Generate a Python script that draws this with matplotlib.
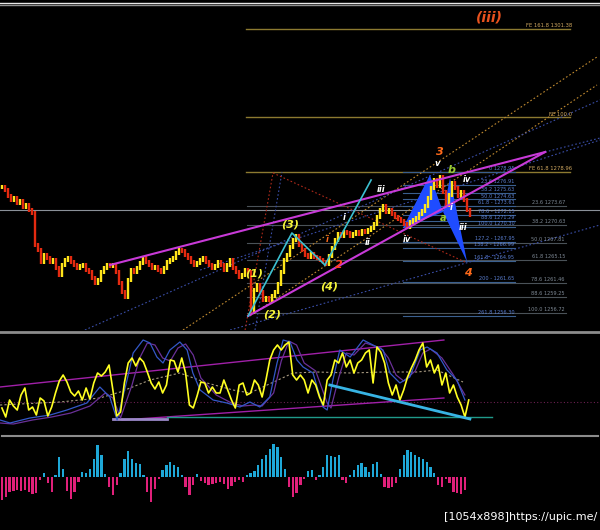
import matplotlib
matplotlib.use("agg")
import matplotlib.pyplot as plt
from matplotlib.lines import Line2D

#### price bars: close of every bar, open = previous close ####
closes = [1276.59, 1276.12, 1275.18, 1274.55, 1274.86, 1274.08, 1274.39, 1273.45, 1273.76, 1272.98,
          1272.50, 1267.47, 1266.69, 1264.80, 1265.90, 1265.43, 1264.80, 1265.11, 1263.86, 1262.76,
          1264.33, 1265.11, 1265.43, 1264.80, 1264.33, 1263.86, 1264.17, 1264.33, 1263.54, 1263.23,
          1262.29, 1261.50, 1261.97, 1263.23, 1263.86, 1264.33, 1264.17, 1264.33, 1263.23, 1261.50,
          1260.09, 1259.30, 1261.97, 1263.54, 1263.23, 1263.86, 1264.64, 1265.43, 1264.80, 1264.33,
          1263.86, 1264.02, 1263.54, 1263.23, 1263.86, 1264.80, 1265.11, 1265.43, 1266.22, 1266.69,
          1266.53, 1265.90, 1265.43, 1264.80, 1264.33, 1264.64, 1265.11, 1265.43, 1264.80, 1264.33,
          1263.86, 1264.17, 1264.80, 1264.33, 1263.54, 1264.33, 1265.11, 1263.86, 1263.23, 1262.44,
          1262.76, 1263.54, 1263.23, 1256.94, 1260.40, 1261.18, 1260.09, 1258.83, 1259.15, 1258.83,
          1259.46, 1260.09, 1261.34, 1263.23, 1265.11, 1265.90, 1267.16, 1268.26, 1268.89, 1267.47,
          1266.69, 1265.90, 1265.59, 1266.06, 1265.59, 1265.43, 1265.11, 1264.80, 1264.49, 1265.74,
          1267.00, 1268.26, 1269.20, 1268.89, 1269.52, 1269.36, 1268.89, 1269.20, 1269.52, 1269.20,
          1269.67, 1269.52, 1269.83, 1270.15, 1270.77, 1271.88, 1272.98, 1273.61, 1272.66, 1272.98,
          1272.35, 1271.88, 1271.56, 1271.25, 1270.77, 1270.30, 1271.09, 1271.40, 1271.72, 1272.35,
          1272.82, 1273.61, 1274.86, 1276.43, 1277.69, 1276.75, 1278.16, 1275.81, 1273.76, 1275.33,
          1277.22, 1276.43, 1275.18, 1275.81, 1274.55, 1272.98, 1272.19]

#### fibonacci expansion / retracement levels ####
fe_levels = [1301.38, 1287.52, 1278.96]
fe_labels = ["FE 161.8 1301.38", "FE 100.0", "FE 61.8 1278.96"]
fib_left = [1278.95, 1276.91, 1275.63, 1274.63, 1273.61, 1272.15, 1271.29, 1270.30,
            1267.95, 1266.99, 1264.95, 1261.65, 1256.30]
fib_left_labels = ["0 1278.95", "23.6 1276.91", "38.2 1275.63", "50.0 1274.63", "61.8 - 1273.61",
                   "78.6 - 1272.15", "88.6 1271.29", "100.0 1270.30", "127.2 - 1267.95",
                   "138.2 - 1266.99", "161.8 - 1264.95", "200 - 1261.65", "261.8 1256.30"]
fib_right = [1273.67, 1270.63, 1267.81, 1265.15, 1261.46, 1259.25, 1256.72]
fib_right_labels = ["23.6 1273.67", "38.2 1270.63", "50.0 1267.81", "61.8 1265.15",
                    "78.6 1261.46", "88.6 1259.25", "100.0 1256.72"]
price_line = 1272.98

#### drawn objects (bar index, price) ####
wedge_upper = [(36.2, 1264.33), (181.2, 1282.09)]
wedge_lower = [(82.2, 1256.31), (181.2, 1282.09)]
cyan_wave = [(82.2, 1256.31), (96.8, 1269.36), (107.8, 1264.33)]
cyan_leg = [(107.8, 1264.33), (123.2, 1277.69)]
xabcd_1 = [(133.8, 1270.15), (142.8, 1278.48), (147.2, 1272.66)]
xabcd_2 = [(147.2, 1272.66), (149.5, 1278.01), (155.2, 1264.80)]
orange_dots = [[(60.5, 1254.11), (198.5, 1297.03)],
               [(82.8, 1256.31), (198.5, 1292.63)]]
blue_dots = [[(27.8, 1254.11), (199.5, 1290.27)],
             [(76.2, 1254.11), (199.5, 1270.62)],
             [(66.2, 1263.54), (199.5, 1283.98)],
             [(181.2, 1282.09), (199.5, 1284.29)],
             [(84.5, 1254.11), (93.5, 1278.95)]]
red_dots = [(81.2, 1254.11), (90.5, 1278.80), (154.5, 1264.80)]

wave_text = ["(iii)", "3", "v", "b", "iv", "i", "a", "iii", "4", "iv", "iii", "ii", "i", "i",
             "2", "(4)", "(1)", "(2)", "(3)"]
wave_x = [162.8, 146.2, 145.2, 150.2, 155.2, 149.8, 147.2, 153.8, 155.5, 135.2, 126.5, 122.2,
          114.2, 108.5, 112.5, 109.2, 84.2, 90.2, 96.2]
wave_y = [1303.16, 1282.09, 1280.36, 1279.26, 1277.69, 1273.29, 1271.72, 1270.15, 1263.07,
          1268.26, 1276.12, 1267.79, 1271.72, 1268.26, 1264.33, 1260.87, 1263.07, 1256.47, 1270.62]

#### oscillator panel ####
osc = [25, 16, 33, 27, 23, 38, 45, 23, 26, 18,
       35, 32, 17, 26, 40, 52, 58, 51, 41, 37,
       42, 33, 45, 34, 50, 60, 57, 61, 68, 43,
       17, 21, 50, 70, 75, 67, 75, 71, 61, 50,
       44, 51, 40, 48, 73, 72, 61, 75, 60, 28,
       25, 37, 51, 50, 40, 46, 40, 40, 53, 43,
       33, 25, 48, 50, 38, 40, 53, 48, 36, 53,
       73, 83, 88, 83, 88, 91, 58, 53, 58, 53,
       40, 53, 48, 36, 28, 53, 58, 73, 70, 80,
       66, 73, 60, 70, 73, 80, 83, 50, 86, 81,
       70, 50, 38, 48, 33, 43, 56, 65, 73, 83,
       90, 66, 73, 60, 68, 48, 60, 40, 48, 36,
       28, 16, 33]
blue_x = [-0.5, 2.1, 7.3, 12.6, 17, 22.2, 25.6, 28.2, 30.1, 32.7, 34.3, 36.9, 38.7, 40.5, 42.1,
          43.9, 46.5, 48.4, 49.9, 51.8, 55.2, 58.8, 62.2, 64.8, 67.4, 70, 71.9, 73.5, 75.3, 77.1,
          78.7, 81.3, 83.9, 85, 86.5, 88.3, 91, 94.4, 98, 99.6, 101.4, 104, 106.6, 109.3, 111.1,
          113.7, 116.3, 118.9, 121]
blue_v = [13, 10, 15, 18, 23, 30, 46, 36, 13, 53, 80, 93, 90, 76, 70,
          83, 91, 83, 60, 43, 33, 30, 26, 31, 26, 36, 70, 93, 91, 73,
          66, 60, 26, 23, 53, 83, 76, 93, 86, 83, 60, 50, 56, 83, 86,
          80, 63, 53, 33]
purple_x = [-0.5, 3, 8, 13, 18, 23, 27, 29, 31, 34, 36, 38, 40, 42, 44, 46, 48, 50, 52, 56,
            60, 63, 66, 68, 71, 73, 75, 77, 79, 82, 85, 86, 88, 90, 92, 95, 99, 101, 103, 105,
            108, 110, 112, 115, 118, 121]
purple_v = [10, 9, 13, 16, 20, 27, 40, 35, 15, 48, 75, 90, 88, 75, 72, 85, 89, 78, 55, 38,
            30, 27, 28, 27, 40, 72, 92, 88, 70, 62, 30, 25, 55, 80, 78, 90, 85, 75, 58, 52,
            62, 80, 84, 75, 58, 38]
sig_x = [-0.5, 15.2, 25.6, 30.9, 38.7, 46.5, 53.6, 60.4, 64.8, 76.1, 82.3, 91, 99.6, 108.5,
         113.7, 120.5]
sig_v = [28, 31, 35, 41, 53, 60, 50, 43, 40, 60, 61, 60, 61, 61, 63, 51]
osc_upper = [(-0.5, 46), (115.5, 93)]
osc_lower = [(31.4, 13), (115.5, 35)]
osc_base = [(29.0, 14), (43.1, 14)]
osc_floor = [(43.1, 16), (128.1, 16)]
osc_trend = [(85.7, 48), (122.3, 14)]
osc_mid = 31

#### histogram panel ####
hist = [-23, -20, -15, -14, -13, -14, -13, -15, -17, -16,
        -3, 4, -6, -15, 2, 20, 8, -14, -22, -15,
        -5, 5, 4, 8, 18, 32, 22, 3, -10, -18,
        -8, 4, 18, 26, 18, 14, 13, 2, -15, -25,
        -12, -2, 7, 12, 15, 12, 10, 2, -10, -18,
        -8, 3, -4, -6, -8, -7, -6, -5, -7, -12,
        -9, -5, -3, -5, 2, 4, 6, 12, 18, 22,
        28, 33, 30, 20, 8, -10, -20, -16, -8, -2,
        6, 7, -3, 2, 10, 22, 21, 20, 22, -3,
        -6, 2, 7, 12, 14, 10, 5, 13, 15, 3,
        -10, -11, -10, -6, 8, 22, 27, 25, 22, 20,
        18, 15, 10, 4, -8, -10, -2, -6, -15, -16,
        -17, -13]

fig = plt.figure(figsize=(6, 5.3), dpi=100, facecolor='black')

#### main price panel ####
ax = fig.add_axes([0, 200/530., 1, 325/530.])
ax.set_xlim(-0.5, 199.5)
ax.set_ylim(1254.11, 1305.2)
ax.set_axis_off()

ax.axhline(price_line, color='#8a9098', lw=0.8, zorder=1)
for lev, lab in zip(fe_levels, fe_labels):
    ax.plot([81.5, 189.5], [lev, lev], color='#8c7a30', lw=1, zorder=1)
    ax.text(190.3, lev + 0.15, lab, color='#d0a860', fontsize=3.8, ha='right', va='bottom')
for lev, lab in zip(fib_right, fib_right_labels):
    ax.plot([81.8, 188.0], [lev, lev], color='#4a5258', lw=0.8, zorder=1)
    ax.text(187.8, lev + 0.15, lab, color='#7f8a96', fontsize=3.6, ha='right', va='bottom')
for lev, lab in zip(fib_left, fib_left_labels):
    ax.plot([133.8, 171.2], [lev, lev], color='#3a5f8f', lw=0.8, zorder=1)
    ax.text(171.0, lev + 0.12, lab, color='#5a7ed0', fontsize=3.6, ha='right', va='bottom')

for seg in orange_dots:
    ax.plot(*zip(*seg), color='#c08a30', lw=0.8, ls=(0, (1.5, 2)), zorder=1)
for seg in blue_dots:
    ax.plot(*zip(*seg), color='#3a4ea8', lw=0.8, ls=(0, (1.5, 2)), zorder=1)
ax.plot(*zip(*red_dots), color='#b02a1a', lw=0.8, ls=(0, (1.5, 2)), zorder=1)

ax.fill(*zip(*xabcd_1), color='#1f4cff', lw=0, zorder=2)
ax.fill(*zip(*xabcd_2), color='#1f4cff', lw=0, zorder=2)

# candle bodies, padded a little so flat bars still show
opens = [closes[0]] + closes[:-1]
for i, (o, c) in enumerate(zip(opens, closes)):
    col = '#ffe51a' if c >= o else '#e42a10'
    ax.vlines(i, min(o, c) - 0.35, max(o, c) + 0.35, color=col, lw=1.7, zorder=3)

ax.plot(*zip(*wedge_upper), color='#c83ad8', lw=1.5, zorder=4)
ax.plot(*zip(*wedge_lower), color='#c83ad8', lw=1.5, zorder=4)
ax.plot(*zip(*cyan_wave), color='#3cc0d0', lw=1.2, zorder=4)
ax.plot(*zip(*cyan_leg), color='#3cc0d0', lw=1.2, zorder=4)

wave_style = {"(iii)": ('#e8521e', 10), "3": ('#ff6a1a', 8), "4": ('#ff6a1a', 8),
              "2": ('#ff4020', 8), "b": ('#9acd32', 8), "a": ('#9acd32', 7),
              "(1)": ('#f5f53a', 8), "(2)": ('#f5f53a', 8), "(3)": ('#f5f53a', 8),
              "(4)": ('#f5f53a', 8)}
for k, (t, x, y) in enumerate(zip(wave_text, wave_x, wave_y)):
    col, size = wave_style.get(t, ('#ffffff', 6))
    if k == 13:
        col = '#ff6a1a'
    ax.text(x, y, t, color=col, fontsize=size, fontweight='bold', fontstyle='italic',
            ha='center', va='center', zorder=5)

#### oscillator panel ####
ax2 = fig.add_axes([0, 97/530., 1, 100/530.])
ax2.set_xlim(-0.5, 156.3)
ax2.set_ylim(0, 100)
ax2.set_axis_off()
ax2.axhline(osc_mid, color='#6a2050', lw=0.8, ls=(0, (1, 2)))
ax2.plot(*zip(*osc_upper), color='#a020a8', lw=1)
ax2.plot(*zip(*osc_lower), color='#a020a8', lw=1)
ax2.plot(*zip(*osc_base), color='#9a88c8', lw=2)
ax2.plot(*zip(*osc_floor), color='#1f9a8a', lw=1)
ax2.plot(sig_x, sig_v, color='#a89a80', lw=0.8, ls=(0, (2, 2)))
ax2.plot(purple_x, purple_v, color='#6a3098', lw=0.9)
ax2.plot(blue_x, blue_v, color='#3458c8', lw=0.9)
ax2.plot(range(len(osc)), osc, color='#ffff22', lw=1.2)
ax2.plot(*zip(*osc_trend), color='#38b4e4', lw=2)

#### histogram panel ####
ax3 = fig.add_axes([0, 0, 1, 92/530.])
ax3.set_xlim(-0.5, 156.3)
ax3.set_ylim(-53, 39)
ax3.set_axis_off()
hcols = ['#1ea8d8' if v >= 0 else '#e0207a' for v in hist]
ax3.bar(range(len(hist)), hist, width=0.6, color=hcols, lw=0)

#### frame lines and caption ####
fig.add_artist(Line2D([0, 1], [1 - 2.7/530, 1 - 2.7/530], color='#e8e8e8', lw=1))
fig.add_artist(Line2D([0, 1], [1 - 5.2/530, 1 - 5.2/530], color='#909090', lw=1))
fig.add_artist(Line2D([0, 1], [1 - 332/530., 1 - 332/530.], color='#8c8c8c', lw=2))
fig.add_artist(Line2D([0.003, 0.997], [1 - 436/530., 1 - 436/530.], color='#8c8c8c', lw=1.5))
fig.text(0.995, 1 - 517/530., "[1054x898]https://upic.me/", color='white', fontsize=8,
         ha='right', va='center')

fig.savefig("out.png", dpi=100, facecolor='black')
